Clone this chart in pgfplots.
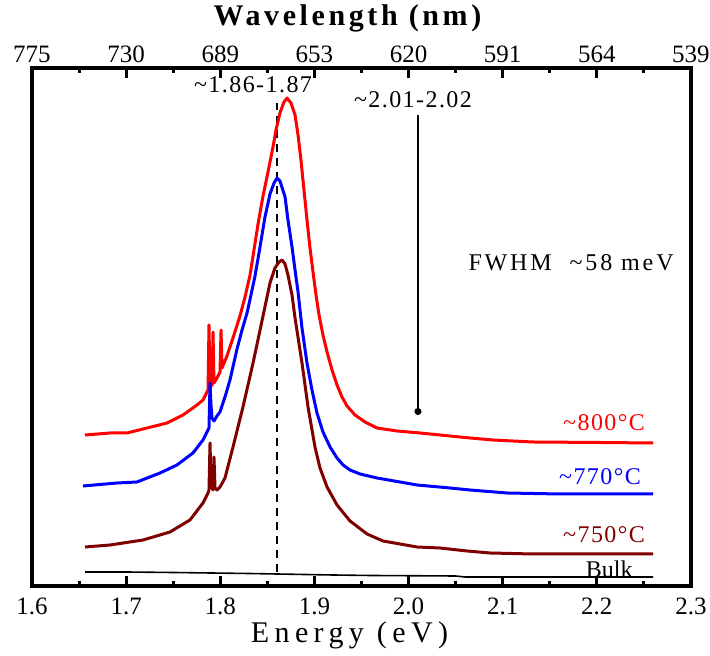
\documentclass[border=0pt]{standalone}
\usepackage{fontspec}
\setmainfont{Liberation Serif}
\newfontfamily\widefont[LetterSpace=12]{Liberation Serif}
\newfontfamily\widerfont[LetterSpace=18]{Liberation Serif}
\newfontfamily\midfont[LetterSpace=6]{Liberation Serif}
\usepackage{pgfplots}
\pgfplotsset{compat=1.18}
\usetikzlibrary{arrows.meta}

\definecolor{pl800}{RGB}{255,0,0}
\definecolor{pl770}{RGB}{0,0,255}
\definecolor{pl750}{RGB}{128,0,0}

\pgfplotsset{pl/.style={line width=1.5pt, line join=round, no markers}}
\tikzset{nmlabel/.style={anchor=base, yshift=2.5pt, font=\fontsize{12.5}{14}\selectfont}}

\begin{document}
\begin{tikzpicture}
\begin{axis}[
    scale only axis, width=329.5pt, height=259pt,
    xmin=1.6, xmax=2.3, ymin=0, ymax=518,
    xtick={1.6,1.7,1.8,1.9,2.0,2.1,2.2,2.3},
    xticklabels={1.6,1.7,1.8,1.9,2.0,2.1,2.2,2.3},
    minor x tick num=1,
    ytick=\empty,
    xtick pos=both, xticklabel pos=lower,
    tick align=inside,
    major tick length=5pt, minor tick length=2.5pt,
    tick style={black, line width=1.5pt},
    axis line style={line width=2pt},
    xticklabel style={font=\fontsize{12.5}{14}\selectfont, yshift=-2.5pt},
    xlabel={Energy (eV)},
    xlabel style={at={(axis description cs:0.5,0)}, anchor=center, yshift=-24.5pt, xshift=-6pt,
                  font=\widerfont\fontsize{15}{18}\selectfont},
    clip=false,
  ]
  % peak position marker
  \addplot[black, line width=1pt, dash pattern=on 4pt off 3pt] coordinates {(1.8603,14) (1.8603,483)};

  % ~800 C
  \addplot[pl, pl800] table {
1.6563 151
1.6829 153
1.7009 153
1.7222 158
1.7434 163
1.7604 171
1.7753 181
1.7816 186
1.7870 196
1.7880 261
1.7891 199
1.7912 201
1.7923 254
1.7933 203
1.7965 208
1.7997 214
1.8008 256
1.8018 218
1.8071 230
1.8135 248
1.8209 270
1.8263 289
1.8316 311
1.8348 330
1.8401 362
1.8454 390
1.8507 414
1.8560 439
1.8592 456
1.8634 473
1.8677 484
1.8709 488
1.8751 483
1.8794 471
1.8826 451
1.8857 426
1.8889 396
1.8921 366
1.8953 338
1.8985 314
1.9017 291
1.9049 271
1.9091 251
1.9134 234
1.9187 216
1.9240 201
1.9293 189
1.9346 180
1.9431 171
1.9537 164
1.9665 158
1.9877 155
2.0122 153
2.0334 151
2.0653 148
2.0897 146
2.1322 144
2.2034 143.5
2.2597 143
  };

  % ~770 C
  \addplot[pl, pl770] table {
1.6542 100
1.6903 103
1.7115 104
1.7360 113
1.7540 121
1.7710 133
1.7816 146
1.7870 156
1.7880 158
1.7891 203
1.7901 181
1.7912 168
1.7933 165
1.7965 170
1.7997 174
1.8050 189
1.8103 206
1.8178 237
1.8231 256
1.8284 273
1.8326 291
1.8369 310
1.8422 339
1.8475 369
1.8528 392
1.8571 403
1.8603 408
1.8634 405
1.8688 389
1.8719 366
1.8762 339
1.8794 316
1.8826 294
1.8868 258
1.8921 223
1.8974 196
1.9027 173
1.9091 154
1.9166 139
1.9240 128
1.9304 121
1.9378 116
1.9484 112
1.9665 108
1.9909 104
2.0090 101
2.0440 98
2.0653 96
2.1046 93
2.1609 92
2.2597 92
  };

  % ~750 C
  \addplot[pl, pl750] table {
1.6563 39
1.6829 41
1.7179 46
1.7466 54
1.7678 66
1.7816 83
1.7870 93
1.7880 96
1.7891 143
1.7901 101
1.7923 96
1.7933 129
1.7944 98
1.7965 96
1.7997 99
1.8050 108
1.8135 139
1.8241 179
1.8348 223
1.8454 270
1.8528 303
1.8581 318
1.8624 324
1.8656 326
1.8688 322
1.8719 311
1.8762 291
1.8794 268
1.8868 223
1.8932 179
1.9006 139
1.9059 118
1.9134 99
1.9240 81
1.9378 65
1.9559 52
1.9729 45
2.0090 39
2.0334 38
2.0621 35
2.0865 33
2.1322 32
2.2597 32
  };

  % bulk reference
  \addplot[black, line width=0.8pt, no markers] table {
1.6563 14
1.7000 14
1.7500 13.5
1.7900 13
1.8300 12.5
1.8600 12
1.9200 11
1.9600 10.5
2.0500 10
2.0600 9
2.2597 9
  };

  % arrow to the weak high-energy feature
  \addplot[black, line width=0.8pt, -{Circle[length=3.5pt]}] coordinates {(2.010,471) (2.010,171)};

  \node[font=\midfont\fontsize{12}{14}\selectfont] at (axis cs:1.8348,501) {\textasciitilde1.86-1.87};
  \node[font=\midfont\fontsize{12}{14}\selectfont] at (axis cs:2.0047,486) {\textasciitilde2.01-2.02};
  \node[font=\widefont\fontsize{12}{14}\selectfont] at (axis cs:2.1726,323) {FWHM \ \textasciitilde58 meV};
  \node[pl800, anchor=east, font=\midfont\fontsize{12}{14}\selectfont] at (axis cs:2.2586,163) {\textasciitilde800°C};
  \node[pl770, anchor=east, font=\midfont\fontsize{12}{14}\selectfont] at (axis cs:2.2543,109) {\textasciitilde770°C};
  \node[pl750, anchor=east, font=\midfont\fontsize{12}{14}\selectfont] at (axis cs:2.2586,51) {\textasciitilde750°C};
  \node[anchor=base east, font=\fontsize{12}{14}\selectfont, inner sep=0pt] at (axis cs:2.2384,8) {Bulk};

  % wavelength scale along the top edge (nm = 1240/eV)
  \node[nmlabel] at (axis cs:1.6,518) {775};
  \node[nmlabel] at (axis cs:1.7,518) {730};
  \node[nmlabel] at (axis cs:1.8,518) {689};
  \node[nmlabel] at (axis cs:1.9,518) {653};
  \node[nmlabel] at (axis cs:2.0,518) {620};
  \node[nmlabel] at (axis cs:2.1,518) {591};
  \node[nmlabel] at (axis cs:2.2,518) {564};
  \node[nmlabel] at (axis cs:2.3,518) {539};
  \node[font=\widefont\bfseries\fontsize{15}{18}\selectfont, yshift=25pt, xshift=-7pt] at (axis cs:1.95,518) {Wavelength (nm)};
\end{axis}

\pgfresetboundingbox
\useasboundingbox (-16pt,-35pt) rectangle (339pt,293pt);
\end{tikzpicture}
\end{document}
